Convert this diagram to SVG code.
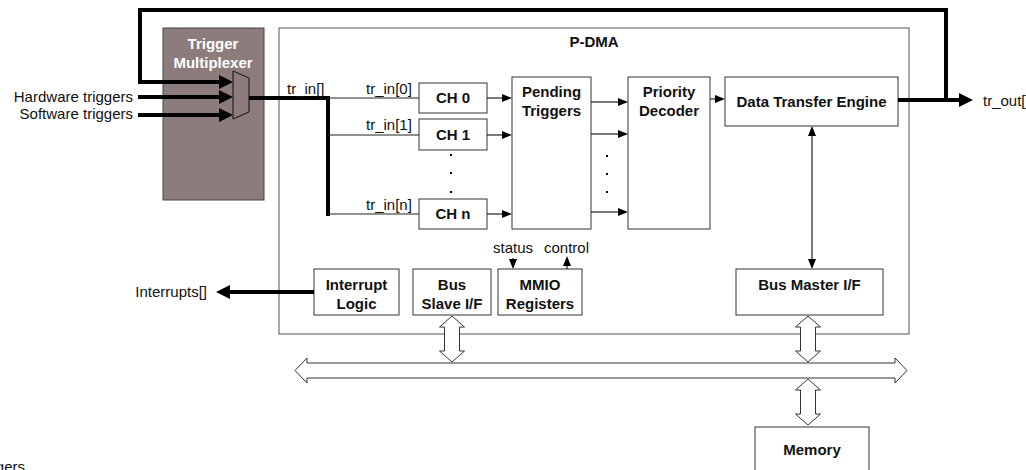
<svg xmlns="http://www.w3.org/2000/svg" width="1026" height="470" viewBox="0 0 1026 470">
<style>
text{font-family:"Liberation Sans",Arial,sans-serif;font-size:15px;fill:#111}
.b{font-weight:bold;text-anchor:middle}
.box{fill:#fff;stroke:#333;stroke-width:1}
.thin{fill:none;stroke:#222;stroke-width:1.2}
.thick{fill:none;stroke:#000;stroke-width:4}
.hollow{fill:#fff;stroke:#333;stroke-width:1}
</style>
<defs>
<marker id="ah" viewBox="0 0 10 8" refX="0" refY="4" markerWidth="10" markerHeight="8" markerUnits="userSpaceOnUse" orient="auto-start-reverse"><path d="M0,0 L10,4 L0,8 z" fill="#000"/></marker>
<marker id="ahb" viewBox="0 0 14 14" refX="0" refY="7" markerWidth="14" markerHeight="14" markerUnits="userSpaceOnUse" orient="auto"><path d="M0,0 L14,7 L0,14 z" fill="#000"/></marker>
</defs>

<g id="pdma"><rect x="279" y="28" width="630" height="306" fill="#fff" stroke="#555" stroke-width="1"/><text class="b" x="594" y="47">P-DMA</text></g>

<g id="trigmux"><rect x="163" y="28" width="101" height="172" fill="#8c7c7c" stroke="#444" stroke-width="1"/><text class="b" x="213" y="49" style="fill:#fff">Trigger</text><text class="b" x="213" y="68" style="fill:#fff">Multiplexer</text><polygon points="233,71 249,78 249,112 233,119" fill="#8c7c7c" stroke="#111" stroke-width="1"/></g>

<g id="ch0"><rect class="box" x="419" y="83" width="68" height="30"/><text class="b" x="453" y="103">CH 0</text></g>
<g id="ch1"><rect class="box" x="419" y="119" width="68" height="31"/><text class="b" x="453" y="140">CH 1</text></g>
<g id="chn"><rect class="box" x="419" y="199" width="68" height="30"/><text class="b" x="453" y="219">CH n</text></g>
<g id="pending"><rect class="box" x="512" y="77" width="79" height="152"/><text class="b" x="551.5" y="97">Pending</text><text class="b" x="551.5" y="116">Triggers</text></g>
<g id="priority"><rect class="box" x="628" y="77" width="82" height="152"/><text class="b" x="669" y="97">Priority</text><text class="b" x="669" y="116">Decoder</text></g>
<g id="dte"><rect class="box" x="725" y="77" width="173" height="49"/><text class="b" x="811.5" y="107">Data Transfer Engine</text></g>
<g id="busmaster"><rect class="box" x="736" y="269" width="147" height="46"/><text class="b" x="809.5" y="290">Bus Master I/F</text></g>
<g id="interrupt"><rect class="box" x="314" y="269" width="85" height="46"/><text class="b" x="356.5" y="290">Interrupt</text><text class="b" x="356.5" y="309">Logic</text></g>
<g id="busslave"><rect class="box" x="413" y="269" width="78" height="46"/><text class="b" x="452" y="290">Bus</text><text class="b" x="452" y="309">Slave I/F</text></g>
<g id="mmio"><rect class="box" x="498" y="269" width="84" height="46"/><text class="b" x="540" y="290">MMIO</text><text class="b" x="540" y="309">Registers</text></g>
<g id="memory"><rect class="box" x="755" y="427" width="114" height="50"/><text class="b" x="812" y="455">Memory</text></g>

<g id="connectors">
<path class="thick" d="M946,100 V10 H140 V82 H219" marker-end="url(#ahb)"/>
<line class="thick" x1="138" y1="97" x2="219" y2="97" marker-end="url(#ahb)"/>
<line class="thick" x1="138" y1="115" x2="219" y2="115" marker-end="url(#ahb)"/>
<path class="thick" d="M249,98 H328 V216"/>
<line class="thin" x1="328" y1="98" x2="419" y2="98"/>
<line class="thin" x1="328" y1="135" x2="419" y2="135"/>
<line class="thin" x1="328" y1="214" x2="419" y2="214"/>
<line class="thin" x1="487" y1="98" x2="502" y2="98" marker-end="url(#ah)"/>
<line class="thin" x1="487" y1="135" x2="502" y2="135" marker-end="url(#ah)"/>
<line class="thin" x1="487" y1="214" x2="502" y2="214" marker-end="url(#ah)"/>
<line class="thin" x1="591" y1="102" x2="618" y2="102" marker-end="url(#ah)"/>
<line class="thin" x1="591" y1="134" x2="618" y2="134" marker-end="url(#ah)"/>
<line class="thin" x1="591" y1="212" x2="618" y2="212" marker-end="url(#ah)"/>
<line class="thin" x1="710" y1="99" x2="715" y2="99" marker-end="url(#ah)"/>
<line class="thick" x1="898" y1="100" x2="959" y2="100" marker-end="url(#ahb)"/>
<line class="thin" x1="812" y1="136" x2="812" y2="259" marker-start="url(#ah)" marker-end="url(#ah)"/>
<line class="thick" x1="314" y1="292" x2="230" y2="292" marker-end="url(#ahb)"/>
<line class="thin" x1="513" y1="258" x2="513" y2="259" marker-end="url(#ah)"/>
<line class="thin" x1="567" y1="269" x2="567" y2="266" marker-end="url(#ah)"/>
<polygon class="hollow" points="295,370.5 307,358 307,363 895,363 895,358 907,370.5 895,383 895,378 307,378 307,383"/>
<polygon class="hollow" points="452,316 464.5,327 459.5,327 459.5,351 464.5,351 452,362 439.5,351 444.5,351 444.5,327 439.5,327"/>
<polygon class="hollow" points="808,316 820.5,327 815.5,327 815.5,351 820.5,351 808,362 795.5,351 800.5,351 800.5,327 795.5,327"/>
<polygon class="hollow" points="808,379 820.5,390 815.5,390 815.5,414 820.5,414 808,425 795.5,414 800.5,414 800.5,390 795.5,390"/>
</g>

<g id="dots" fill="#000">
<rect x="450" y="154" width="2" height="2"/><rect x="450" y="172" width="2" height="2"/><rect x="450" y="191" width="2" height="2"/>
<rect x="606" y="155" width="2" height="2"/><rect x="606" y="173" width="2" height="2"/><rect x="606" y="191" width="2" height="2"/>
</g>

<g id="labels">
<text x="133" y="102" text-anchor="end">Hardware triggers</text>
<text x="133" y="119" text-anchor="end">Software triggers</text>
<text x="287" y="94">tr_in[]</text>
<text x="366" y="94">tr_in[0]</text>
<text x="366" y="130">tr_in[1]</text>
<text x="366" y="210">tr_in[n]</text>
<text x="983" y="106">tr_out[]</text>
<text x="207" y="297" text-anchor="end">Interrupts[]</text>
<text x="493" y="253">status</text>
<text x="544" y="253">control</text>
<text x="25" y="472" text-anchor="end">triggers</text>
</g>
</svg>
